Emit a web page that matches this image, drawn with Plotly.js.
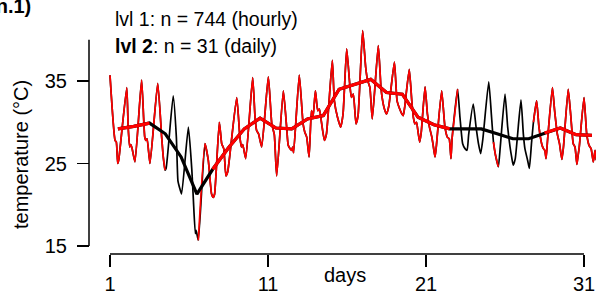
<!DOCTYPE html>
<html><head><meta charset="utf-8">
<script src="https://cdn.plot.ly/plotly-3.0.1.min.js"></script>
<style>html,body{margin:0;padding:0;background:#fff}#chart{width:596px;height:293px}</style>
</head><body><div id="chart"></div>
<script>
// ---- data ----
const hourT = [1.00,1.32,1.40,1.49,1.55,2.06,2.15,2.25,2.32,2.40,2.58,3.00,3.20,3.28,3.35,3.53,4.02,4.27,4.37,4.48,4.55,5.00,5.20,5.30,5.40,5.53,5.96,6.18,6.28,6.40,6.45,6.59,7.01,7.22,7.43,7.54,7.62,7.92,8.07,8.20,8.34,8.45,9.02,9.22,9.32,9.40,9.59,10.03,10.18,10.28,10.40,10.60,11.02,11.24,11.40,11.55,11.97,12.18,12.28,12.40,12.50,12.56,12.62,12.98,13.22,13.33,13.45,13.60,13.75,13.85,14.00,14.15,14.25,14.37,14.57,14.70,15.07,15.20,15.40,15.60,15.75,15.98,16.17,16.28,16.40,16.57,16.70,16.99,17.18,17.30,17.45,17.60,17.98,18.15,18.24,18.37,18.50,18.65,19.00,19.17,19.38,19.48,19.56,19.65,19.94,20.10,20.20,20.30,20.40,20.50,20.60,20.70,20.94,21.09,21.22,21.37,21.47,21.57,21.65,21.99,22.20,22.35,22.47,22.58,22.65,23.00,23.15,23.32,23.47,23.60,23.70,23.99,24.17,24.32,24.46,24.60,24.97,25.15,25.27,25.40,25.58,25.70,26.00,26.17,26.32,26.42,26.52,26.65,27.01,27.16,27.26,27.43,27.54,27.68,27.80,28.00,28.15,28.32,28.43,28.52,28.60,28.70,29.00,29.14,29.31,29.45,29.60,29.70,30.00,30.17,30.32,30.43,30.55,30.60,30.70,31.00,31.17,31.32,31.45,31.59,31.70,31.78];
const hourV = [35.7,27.8,27.6,25.0,25.4,34.2,29.4,27.0,27.3,26.8,25.2,35.1,28.2,27.8,28.0,25.0,34.7,28.2,25.8,24.2,24.4,33.2,28.2,22.9,22.1,21.3,29.4,24.2,20.5,16.5,16.9,15.7,27.4,25.4,21.3,20.9,21.3,30.0,27.4,26.8,23.5,24.0,33.0,28.2,27.0,27.3,25.6,35.4,30.6,29.0,28.6,27.0,35.5,29.8,28.5,23.5,33.8,29.4,27.2,26.8,26.6,27.0,26.3,35.7,29.8,28.8,28.2,25.8,31.4,30.6,33.8,31.4,31.6,30.2,27.8,28.6,37.5,32.6,30.6,29.4,31.0,38.9,34.7,33.0,33.4,29.8,30.8,41.1,36.7,35.1,34.2,30.4,39.3,34.2,32.8,31.6,31.0,32.0,37.3,32.6,31.4,31.0,30.8,31.8,36.4,32.6,30.6,29.8,30.0,28.8,27.6,28.8,34.3,31.0,29.4,28.2,27.0,25.8,27.0,33.8,29.4,28.2,28.0,25.6,28.0,34.0,30.6,27.4,26.8,26.6,28.5,32.2,29.4,27.4,26.2,28.0,34.9,30.6,27.6,26.0,24.6,27.0,33.4,29.4,27.0,25.8,24.8,25.6,32.7,28.6,26.8,25.4,24.4,27.5,30.0,32.6,29.4,27.4,26.8,26.6,25.6,28.0,34.2,31.4,28.6,27.4,25.5,27.0,34.0,30.6,27.4,27.0,24.9,25.6,27.0,33.0,28.6,27.2,26.8,25.2,26.6,25.4];
// hourly periods without level-1 observations (drawn black only)
const hourGapStart = [4.48, 23.00, 25.58];
const hourGapEnd   = [6.59, 25.27, 27.80];

const days   = [1,2,3,4,5,6,7,8,9,10,11,12,13,14,15,16,17,18,19,20,21,22,23,24,25,26,27,28,29,30,31];
const dailyV = [29.2,29.5,29.9,28.6,25.8,21.3,24.3,26.9,29.2,30.5,29.3,29.2,30.4,30.8,34.0,34.6,35.2,33.6,33.4,30.6,29.7,29.2,29.2,29.2,28.6,28.0,28.0,28.7,29.3,28.5,28.4];
const dayGapStart = [3.5, 22.5];
const dayGapEnd   = [7.5, 28.5];

const xTicks = [1, 11, 21, 31];
const yTicks = [15, 25, 35];

// ---- build ----
function inGap(t, gs, ge){ for(let i=0;i<gs.length;i++){ if(t>gs[i]+1e-9 && t<ge[i]-1e-9) return true; } return false; }
const dailyT = days.map(d => d + 0.5);
const hourRed = hourV.map((v,i) => inGap(hourT[i], hourGapStart, hourGapEnd) ? null : v);
const dayRed = dailyV.map((v,i) => inGap(dailyT[i], dayGapStart, dayGapEnd) ? null : v);

const W = 596, H = 293;
const xr = [-5.962, 31.7595];
const yr = [9.303, 44.818];
const xp = t => (t - xr[0]) / (xr[1] - xr[0]);
const yp = v => (v - yr[0]) / (yr[1] - yr[0]);
const yAxisPos = 89 / W;
const xAxisPos = (H - 254) / H;

const RED = 'rgb(255,0,0)';
const traces = [
  {x: hourT, y: hourV, type: 'scatter', mode: 'lines', line: {color: 'black', width: 1.7, shape: 'spline', smoothing: 0.5}, hoverinfo: 'skip'},
  {x: hourT, y: hourRed, type: 'scatter', mode: 'lines', connectgaps: false, line: {color: RED, width: 1.7, shape: 'spline', smoothing: 0.5}, hoverinfo: 'skip'},
  {x: dailyT, y: dailyV, type: 'scatter', mode: 'lines', line: {color: 'black', width: 3.2}, hoverinfo: 'skip'},
  {x: dailyT, y: dayRed, type: 'scatter', mode: 'lines', connectgaps: false, line: {color: RED, width: 3.2}, hoverinfo: 'skip'}
];

const FONT = 'Liberation Sans, Arial, Helvetica, sans-serif';
const layout = {
  width: W, height: H,
  margin: {l: 0, r: 0, t: 0, b: 0},
  paper_bgcolor: 'white', plot_bgcolor: 'white',
  showlegend: false,
  font: {family: FONT, size: 20, color: 'black'},
  xaxis: {domain: [0, 1], range: xr, anchor: 'free', position: xAxisPos,
    showgrid: false, zeroline: false, showline: false,
    ticks: 'outside', ticklen: 12, tickwidth: 1.5, tickcolor: 'black',
    tickmode: 'array', tickvals: xTicks, ticktext: xTicks.map(String),
    tickfont: {size: 20, family: FONT, color: 'black'}},
  yaxis: {domain: [0, 1], range: yr, anchor: 'free', position: yAxisPos,
    showgrid: false, zeroline: false, showline: false,
    ticks: 'outside', ticklen: 12, tickwidth: 1.5, tickcolor: 'black',
    tickmode: 'array', tickvals: yTicks, ticktext: yTicks.map(String),
    ticklabelstandoff: 6,
    tickfont: {size: 20, family: FONT, color: 'black'}},
  shapes: [
    {type: 'line', xref: 'paper', yref: 'paper', x0: yAxisPos, x1: yAxisPos, y0: yp(15), y1: yp(40), line: {color: 'black', width: 1.5}},
    {type: 'line', xref: 'paper', yref: 'paper', x0: xp(1), x1: xp(31), y0: xAxisPos, y1: xAxisPos, line: {color: 'black', width: 1.5}}
  ],
  annotations: [
    {xref: 'paper', yref: 'paper', x: 33 / W, y: 1 - 6 / H, xanchor: 'right', yanchor: 'middle', showarrow: false,
      text: '<b>(n.1)</b>', font: {size: 20, family: FONT, color: 'black'}},
    {xref: 'paper', yref: 'paper', x: 113 / W, y: 1 - 19 / H, xanchor: 'left', yanchor: 'middle', showarrow: false,
      text: 'lvl 1: n = 744 (hourly)', font: {size: 19.5, family: FONT, color: 'black'}},
    {xref: 'paper', yref: 'paper', x: 113 / W, y: 1 - 46 / H, xanchor: 'left', yanchor: 'middle', showarrow: false,
      text: '<b>lvl 2</b>: n = 31 (daily)', font: {size: 19.5, family: FONT, color: 'black'}},
    {xref: 'paper', yref: 'paper', x: 345 / W, y: 1 - 275 / H, xanchor: 'center', yanchor: 'middle', showarrow: false,
      text: 'days', font: {size: 20, family: FONT, color: 'black'}},
    {xref: 'paper', yref: 'paper', x: 21 / W, y: 1 - 155 / H, xanchor: 'center', yanchor: 'middle', showarrow: false,
      textangle: -90, text: 'temperature (°C)', font: {size: 20, family: FONT, color: 'black'}}
  ]
};
Plotly.newPlot('chart', traces, layout, {staticPlot: true, displayModeBar: false});
</script>
</body></html>
